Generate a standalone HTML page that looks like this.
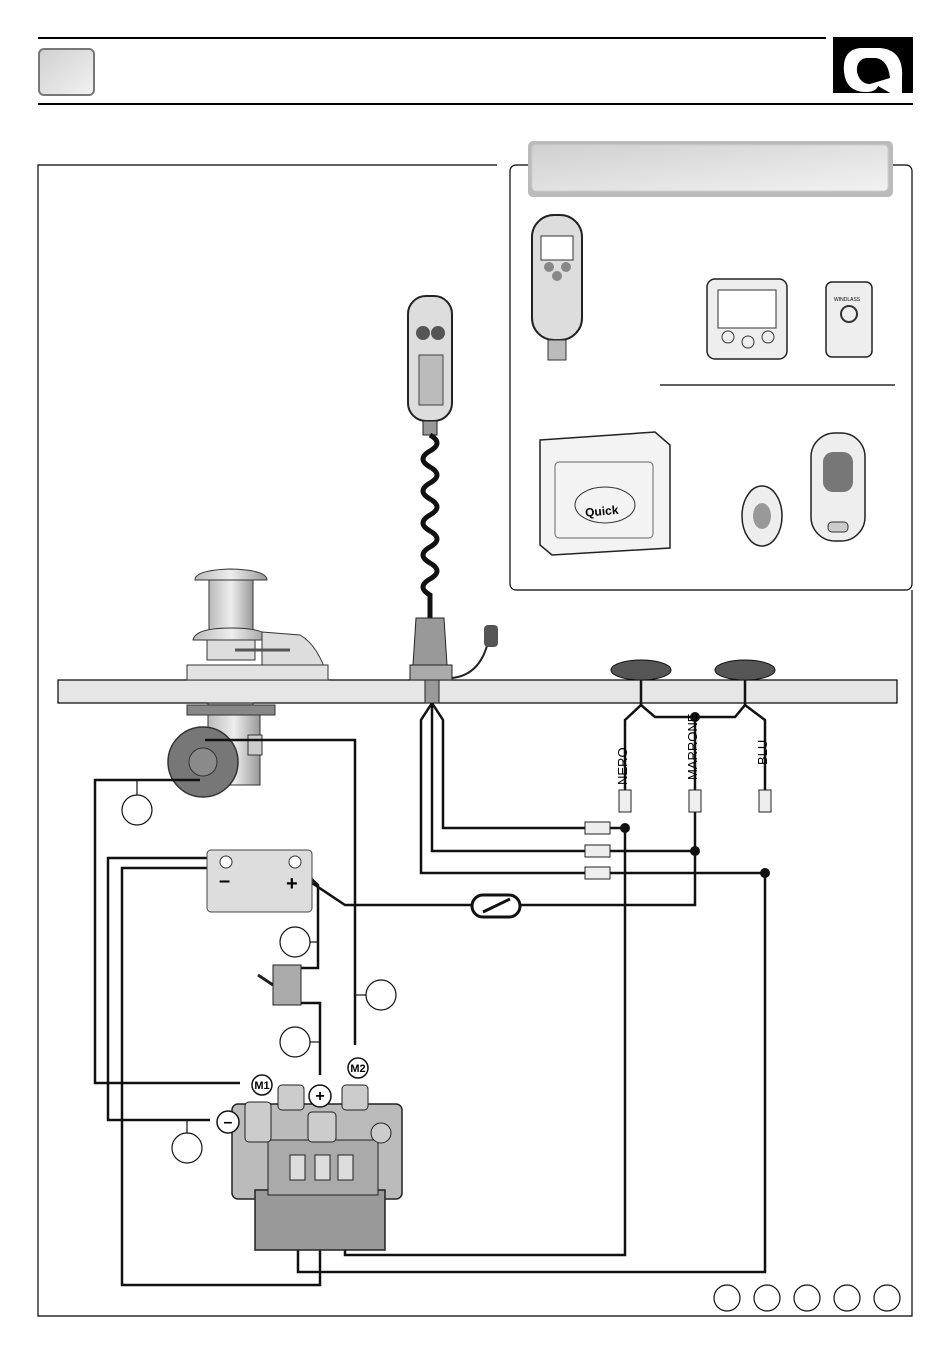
<!DOCTYPE html>
<html><head><meta charset="utf-8"><style>
html,body{margin:0;padding:0;background:#fff;}
svg{display:block;font-family:"Liberation Sans",sans-serif;}
</style></head><body>
<svg width="950" height="1355" viewBox="0 0 950 1355" xmlns="http://www.w3.org/2000/svg">
<defs>
<linearGradient id="gb" x1="0" y1="0" x2="1" y2="1"><stop offset="0" stop-color="#d0d0d0"/><stop offset="1" stop-color="#f2f2f2"/></linearGradient>
<linearGradient id="gm" x1="0" y1="0" x2="1" y2="0"><stop offset="0" stop-color="#bbb"/><stop offset=".5" stop-color="#eee"/><stop offset="1" stop-color="#999"/></linearGradient>
</defs>
<!-- header -->
<line x1="38" y1="38" x2="826" y2="38" stroke="#000" stroke-width="2"/>
<line x1="38" y1="104" x2="913" y2="104" stroke="#000" stroke-width="2"/>
<rect x="39" y="49" width="55" height="46" rx="5" fill="url(#gb)" stroke="#777" stroke-width="2"/>
<rect x="833" y="37" width="80" height="56" fill="#000"/>
<path d="M860 48 Q842 50 844 72 Q846 92 866 92 Q876 92 878 86 L892 94 L902 94 L902 78 Q904 50 880 48 Z" fill="#fff"/>
<path d="M866 58 Q856 60 857 72 Q860 84 870 84 L890 78 Q888 60 876 58 Z" fill="#000"/>
<!-- frames -->
<path d="M497 165 H38 V1316 H912 V590" fill="none" stroke="#000" stroke-width="1.2"/>
<rect x="510" y="165" width="402" height="425" rx="6" fill="#fff" stroke="#000" stroke-width="1.2"/>
<rect x="528" y="141" width="365" height="56" rx="5" fill="#bbb"/>
<rect x="532" y="145" width="356" height="46" rx="4" fill="url(#gb)" stroke="#ccc"/>
<line x1="660" y1="385" x2="895" y2="385" stroke="#000" stroke-width="1.2"/>
<!-- inset devices -->
<rect x="532" y="215" width="50" height="125" rx="22" fill="#ddd" stroke="#222" stroke-width="2"/>
<rect x="541" y="236" width="32" height="24" fill="#fff" stroke="#333"/>
<circle cx="549" cy="267" r="5" fill="#888"/><circle cx="566" cy="267" r="5" fill="#888"/><circle cx="557" cy="276" r="5" fill="#888"/>
<rect x="548" y="340" width="18" height="20" fill="#bbb" stroke="#333"/>
<rect x="707" y="279" width="80" height="80" rx="8" fill="#eee" stroke="#222" stroke-width="1.5"/>
<rect x="718" y="290" width="58" height="38" fill="#fff" stroke="#333"/>
<circle cx="728" cy="337" r="6" fill="none" stroke="#333"/><circle cx="768" cy="337" r="6" fill="none" stroke="#333"/><circle cx="748" cy="342" r="6" fill="none" stroke="#333"/>
<rect x="826" y="282" width="46" height="75" rx="6" fill="#eee" stroke="#222" stroke-width="1.5"/>
<circle cx="849" cy="314" r="8" fill="none" stroke="#333" stroke-width="2"/>
<text x="834" y="301" font-size="5">WINDLASS</text>
<path d="M540 440 L655 432 L670 445 L670 548 L552 555 L540 545 Z" fill="#f3f3f3" stroke="#222" stroke-width="1.5"/>
<rect x="555" y="462" width="98" height="76" rx="4" fill="none" stroke="#666"/>
<ellipse cx="605" cy="505" rx="30" ry="18" fill="none" stroke="#333"/>
<text x="585" y="515" font-size="12" font-weight="bold" transform="rotate(-5 605 510)">Quick</text>
<ellipse cx="762" cy="516" rx="20" ry="30" fill="#eee" stroke="#222" stroke-width="1.5"/>
<ellipse cx="762" cy="516" rx="9" ry="13" fill="#999"/>
<rect x="811" y="433" width="54" height="108" rx="24" fill="#eee" stroke="#222" stroke-width="1.5"/>
<rect x="823" y="452" width="30" height="40" rx="10" fill="#777"/>
<rect x="828" y="522" width="20" height="10" rx="4" fill="#ccc" stroke="#333"/>
<!-- deck -->
<rect x="58" y="680" width="839" height="23" fill="#e6e6e6" stroke="#000" stroke-width="1.2"/>
<!-- windlass above deck -->
<path d="M195 580 Q195 570 231 569 Q267 570 267 580 Z" fill="url(#gm)" stroke="#333"/>
<rect x="209" y="580" width="44" height="52" fill="url(#gm)" stroke="#333"/>
<path d="M193 640 Q195 628 231 628 Q268 628 270 640 Z" fill="url(#gm)" stroke="#333"/>
<path d="M262 632 L300 635 Q318 645 328 678 L262 678 Z" fill="#ddd" stroke="#333"/>
<rect x="207" y="640" width="48" height="20" fill="#ddd" stroke="#333"/>
<line x1="235" y1="650" x2="290" y2="650" stroke="#555" stroke-width="3"/>
<path d="M187 665 H328 V680 H187 Z" fill="#e2e2e2" stroke="#333"/>
<!-- windlass below deck -->
<rect x="208" y="703" width="45" height="10" fill="#aaa" stroke="#333"/>
<rect x="187" y="705" width="88" height="10" fill="#888" stroke="#333"/>
<rect x="208" y="715" width="52" height="70" fill="url(#gm)" stroke="#333"/>
<rect x="248" y="735" width="14" height="20" fill="#ccc" stroke="#333"/>
<circle cx="203" cy="762" r="35" fill="#777" stroke="#333" stroke-width="1.5"/>
<circle cx="203" cy="762" r="14" fill="#8a8a8a" stroke="#333"/>
<!-- remote handset & coil cable -->
<rect x="408" y="296" width="44" height="125" rx="18" fill="#ddd" stroke="#222" stroke-width="2"/>
<circle cx="423" cy="333" r="7" fill="#555"/><circle cx="438" cy="333" r="7" fill="#555"/>
<rect x="419" y="355" width="24" height="50" fill="#bbb" stroke="#444"/>
<rect x="423" y="421" width="14" height="14" fill="#999" stroke="#222"/>
<path d="M430 435 q14 8 0 16 q-14 8 0 16 q14 8 0 16 q-14 8 0 16 q14 8 0 16 q-14 8 0 16 q14 8 0 16 q-14 8 0 16 q14 8 0 16 q-14 8 0 16 l0 30" fill="none" stroke="#111" stroke-width="5"/>
<path d="M416 618 H444 L447 665 H413 Z" fill="#999" stroke="#222"/>
<rect x="410" y="665" width="42" height="15" fill="#aaa" stroke="#222"/>
<path d="M452 678 Q480 675 488 642" fill="none" stroke="#222" stroke-width="2"/>
<rect x="484" y="625" width="14" height="22" rx="4" fill="#555"/>
<rect x="425" y="680" width="14" height="23" fill="#999" stroke="#222"/>
<!-- deck switches -->
<ellipse cx="641" cy="670" rx="30" ry="10" fill="#555" stroke="#111"/>
<ellipse cx="745" cy="670" rx="30" ry="10" fill="#555" stroke="#111"/>
<!-- wiring -->
<g fill="none" stroke="#111" stroke-width="2.5">
<path d="M205 740 H355 V1045"/>
<path d="M200 780 H95 V1083 H240"/>
<path d="M226 858 H108 V1120 H210"/>
<path d="M216 868 H122 V1285 H320 V1155"/>
<path d="M300 868 L318 885 V968 H300"/>
<path d="M300 1003 H320 V1075"/>
<path d="M300 875 L345 905 H472 M520 905 H695 V812"/>
<path d="M432 703 L443 720 V828 H585"/>
<path d="M432 703 V851 H585"/>
<path d="M432 703 L421 720 V873 H585"/>
<path d="M610 828 H625 V1255 H345 V1165"/>
<path d="M610 851 H695"/>
<path d="M610 873 H765 V1272 H298 V1165"/>
<path d="M641 680 V705 L625 720 V790"/>
<path d="M641 705 L655 717 H735 L745 705 V680"/>
<path d="M745 705 L765 720 V790"/>
<path d="M695 717 V790"/>
</g>
<g fill="#111"><circle cx="625" cy="828" r="5"/><circle cx="695" cy="851" r="5"/><circle cx="765" cy="873" r="5"/><circle cx="695" cy="717" r="5"/></g>
<!-- terminal blocks -->
<g fill="#eee" stroke="#222">
<rect x="585" y="822" width="25" height="12"/><rect x="585" y="845" width="25" height="12"/><rect x="585" y="867" width="25" height="12"/>
<rect x="619" y="790" width="12" height="22"/><rect x="689" y="790" width="12" height="22"/><rect x="759" y="790" width="12" height="22"/>
</g>
<text font-size="13" transform="translate(627 785) rotate(-90)">NERO</text>
<text font-size="13" transform="translate(697 780) rotate(-90)">MARRONE</text>
<text font-size="13" transform="translate(767 765) rotate(-90)">BLU</text>
<!-- fuse -->
<rect x="472" y="895" width="48" height="22" rx="11" fill="#fff" stroke="#111" stroke-width="3"/>
<line x1="483" y1="912" x2="510" y2="899" stroke="#111" stroke-width="3"/>
<!-- battery -->
<rect x="207" y="850" width="105" height="62" rx="4" fill="#ddd" stroke="#444"/>
<circle cx="226" cy="862" r="6" fill="#fff" stroke="#333"/><circle cx="295" cy="862" r="6" fill="#fff" stroke="#333"/>
<text x="219" y="887" font-size="20" font-weight="bold">–</text><text x="286" y="890" font-size="20" font-weight="bold">+</text>
<!-- breaker -->
<rect x="273" y="965" width="28" height="40" fill="#aaa" stroke="#222"/>
<line x1="273" y1="985" x2="258" y2="975" stroke="#222" stroke-width="3"/>
<!-- solenoid -->
<rect x="232" y="1104" width="170" height="95" rx="6" fill="#bbb" stroke="#222" stroke-width="1.5"/>
<rect x="255" y="1190" width="130" height="60" fill="#999" stroke="#222" stroke-width="1.5"/>
<rect x="268" y="1140" width="110" height="55" fill="#aaa" stroke="#222"/>
<g fill="#ddd" stroke="#222"><rect x="290" y="1155" width="15" height="25"/><rect x="315" y="1155" width="15" height="25"/><rect x="338" y="1155" width="15" height="25"/></g>
<g fill="#ccc" stroke="#222"><rect x="278" y="1085" width="26" height="25" rx="4"/><rect x="342" y="1085" width="26" height="25" rx="4"/><rect x="308" y="1112" width="28" height="30" rx="4"/><rect x="245" y="1102" width="26" height="40" rx="4"/><circle cx="381" cy="1133" r="10"/></g>
<!-- terminal labels -->
<g fill="#fff" stroke="#111" stroke-width="1.5">
<circle cx="262" cy="1085" r="10"/><circle cx="358" cy="1068" r="10"/><circle cx="320" cy="1096" r="11"/><circle cx="228" cy="1122" r="11"/>
</g>
<g font-size="11" font-weight="bold" text-anchor="middle">
<text x="262" y="1089">M1</text><text x="358" y="1072">M2</text><text x="320" y="1101" font-size="16">+</text><text x="228" y="1127" font-size="16">–</text>
</g>
<!-- callout circles -->
<g fill="#fff" stroke="#111" stroke-width="1.2">
<circle cx="137" cy="810" r="15"/><circle cx="295" cy="942" r="15"/><circle cx="381" cy="995" r="15"/><circle cx="295" cy="1042" r="15"/><circle cx="187" cy="1148" r="15"/>
<circle cx="727" cy="1298" r="13"/><circle cx="767" cy="1298" r="13"/><circle cx="807" cy="1298" r="13"/><circle cx="847" cy="1298" r="13"/><circle cx="887" cy="1298" r="13"/>
</g>
<g stroke="#111" stroke-width="1.2"><line x1="137" y1="780" x2="137" y2="795"/><line x1="318" y1="942" x2="310" y2="942"/><line x1="355" y1="995" x2="366" y2="995"/><line x1="320" y1="1042" x2="310" y2="1042"/><line x1="187" y1="1120" x2="187" y2="1133"/></g>
</svg>
</body></html>
